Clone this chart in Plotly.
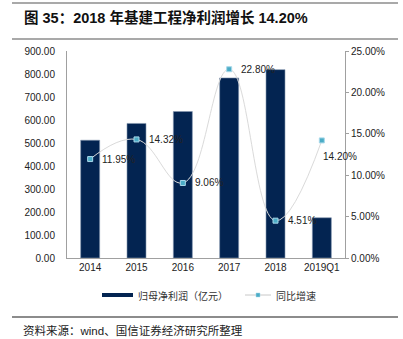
import plotly.graph_objects as go

categories = ["2014", "2015", "2016", "2017", "2018", "2019Q1"]
profit = [512, 585, 637, 783, 819, 175]
growth = [0.1195, 0.1432, 0.0906, 0.2280, 0.0451, 0.1420]
growth_labels = ["11.95%", "14.32%", "9.06%", "22.80%", "4.51%", "14.20%"]
left_ticks = [0, 100, 200, 300, 400, 500, 600, 700, 800, 900]
right_ticks = [0, 0.05, 0.10, 0.15, 0.20, 0.25]

title_text = "图 35：2018 年基建工程净利润增长 14.20%"
source_text = "资料来源：wind、国信证券经济研究所整理"
bar_name = "归母净利润（亿元）"
line_name = "同比增速"

W, H = 403, 339
L, R, T, B = 67, 58, 51, 81
pw, ph = W - L - R, H - T - B

def px(x):
    return (x - L) / pw

def py(y):
    return (H - B - y) / ph

navy = "#032451"
font_main = "Liberation Sans, Arial, Noto Sans CJK SC, sans-serif"
font_cjk = "Noto Sans CJK SC, sans-serif"

fig = go.Figure()
fig.add_trace(go.Bar(x=categories, y=profit, name=bar_name, marker_color=navy,
                     marker_line_color="#8497b0", marker_line_width=0.6,
                     width=0.41, yaxis="y", showlegend=False))
fig.add_trace(go.Scatter(x=categories, y=growth, name=line_name, yaxis="y2",
                         mode="lines+markers",
                         line=dict(color="#dadada", width=1, shape="spline", smoothing=1.2),
                         marker=dict(symbol="square", size=5, color="#4bacc6",
                                     line=dict(color="#a8d8ea", width=1)),
                         cliponaxis=False, showlegend=False))

fig.update_layout(
    width=W, height=H,
    margin=dict(l=L, r=R, t=T, b=B),
    paper_bgcolor="white", plot_bgcolor="white",
    font=dict(family=font_main, size=10, color="#222222"),
    xaxis=dict(type="category", categoryorder="array", categoryarray=categories,
               range=[-0.5, len(categories) - 0.5],
               showline=True, linecolor="#a0a0a0", linewidth=1,
               ticks="", tickfont=dict(size=10), showgrid=False),
    yaxis=dict(range=[0, 900], tickvals=left_ticks, tickformat=".2f",
               showline=True, linecolor="#a0a0a0", linewidth=1, showgrid=False,
               zeroline=False, ticks="", ticklabelstandoff=9, tickfont=dict(size=10)),
    yaxis2=dict(range=[0, 0.25], tickvals=right_ticks, tickformat=".2%",
                overlaying="y", side="right", showline=True, linecolor="#a0a0a0",
                linewidth=1, showgrid=False, zeroline=False, ticks="outside",
                ticklen=3, tickcolor="#a0a0a0", tickfont=dict(size=10)),
    showlegend=False,
)

shapes = []
shapes.append(dict(type="line", xref="paper", yref="paper", x0=px(12), x1=px(398),
                   y0=py(3), y1=py(3), line=dict(color="#555555", width=1.2)))
shapes.append(dict(type="line", xref="paper", yref="paper", x0=px(12), x1=px(398),
                   y0=py(39), y1=py(39), line=dict(color="#555555", width=1.2)))
shapes.append(dict(type="line", xref="paper", yref="paper", x0=px(12), x1=px(398),
                   y0=py(317), y1=py(317), line=dict(color="#8c8c8c", width=2)))
shapes.append(dict(type="rect", xref="paper", yref="paper", x0=px(102), x1=px(133),
                   y0=py(297), y1=py(293), fillcolor=navy, line=dict(width=0)))
shapes.append(dict(type="line", xref="paper", yref="paper", x0=px(245), x1=px(271),
                   y0=py(295), y1=py(295), line=dict(color="#c8c8c8", width=1)))
shapes.append(dict(type="rect", xref="paper", yref="paper", x0=px(256), x1=px(260),
                   y0=py(297), y1=py(293), fillcolor="#4bacc6",
                   line=dict(color="#a8d8ea", width=0.5)))
fig.update_layout(shapes=shapes)

ann = []
for i, (g, t) in enumerate(zip(growth, growth_labels)):
    last = i == len(growth) - 1
    ann.append(dict(text=t, x=i, y=g, xref="x", yref="y2", showarrow=False,
                    xanchor="left", yanchor="middle",
                    xshift=-1 if last else 10, yshift=-16 if last else 0,
                    font=dict(size=10, color="#222222", family=font_main)))
ann.append(dict(text="<b>" + title_text + "</b>", xref="paper", yref="paper",
                x=px(22), y=py(18), xanchor="left", yanchor="middle", showarrow=False,
                font=dict(size=14.5, color="#111111", family=font_main)))
ann.append(dict(text=bar_name, xref="paper", yref="paper", x=px(136), y=py(295),
                xanchor="left", yanchor="middle", showarrow=False,
                font=dict(size=10, color="#333333", family=font_cjk)))
ann.append(dict(text=line_name, xref="paper", yref="paper", x=px(274), y=py(295),
                xanchor="left", yanchor="middle", showarrow=False,
                font=dict(size=10, color="#333333", family=font_cjk)))
ann.append(dict(text=source_text, xref="paper", yref="paper", x=px(21), y=py(330),
                xanchor="left", yanchor="middle", showarrow=False,
                font=dict(size=11.5, color="#222222", family=font_main)))
fig.update_layout(annotations=ann)

fig.write_html("out.html")
